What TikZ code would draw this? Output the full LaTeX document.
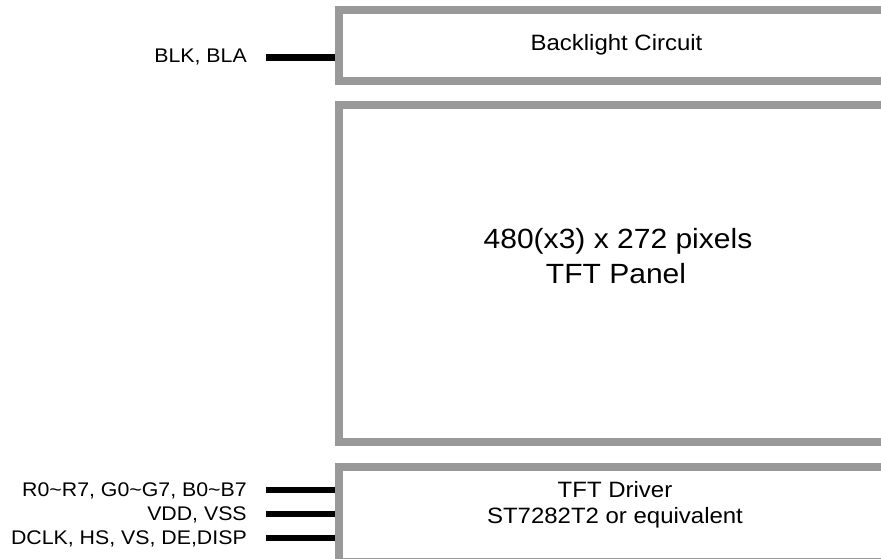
\documentclass[tikz,border=0pt]{standalone}
\usepackage{fontspec}
\setmainfont{Liberation Sans}[FakeStretch=1.08]
\begin{document}
\begin{tikzpicture}[x=0.75pt,y=-0.75pt,
  blockbox/.style={draw=boxgray,line width=6pt,rectangle,inner sep=0pt,anchor=north west},
  wire/.style={line width=5pt,black},
  pinlabel/.style={anchor=base east,inner sep=0pt,font=\fontsize{14.8pt}{18pt}\selectfont},
  boxtext/.style={anchor=base,inner sep=0pt,font=\fontsize{16.65pt}{20pt}\selectfont},
  paneltext/.style={anchor=base,inner sep=0pt,font=\fontsize{20.85pt}{26pt}\selectfont}]
\definecolor{boxgray}{RGB}{153,153,153}
\useasboundingbox (0,0) rectangle (881,559);
\clip (0,0) rectangle (881,559);
% blocks (anchored at outer edge of the border)
\node[blockbox,minimum width=420pt,minimum height=53.25pt] (back) at (335,6) {};
\node[blockbox,minimum width=420pt,minimum height=252pt] (panel) at (335,101.5) {};
\node[blockbox,minimum width=420pt,minimum height=71.6pt] (drv) at (335,462.5) {};
% texts in blocks
\node[boxtext] (tback) at (616.5,51) {Backlight Circuit};
\node[paneltext] (tpanel1) at (618,248.3) {480(x3) x 272 pixels};
\node[paneltext] (tpanel2) at (616,283.3) {TFT Panel};
\node[boxtext] (tdrv1) at (615,497.5) {TFT Driver};
\node[boxtext] (tdrv2) at (615,523.5) {ST7282T2 or equivalent};
% pin labels
\node[pinlabel] (lblk) at (247,62.7) {BLK, BLA};
\node[pinlabel] (lrgb) at (247,496) {R0\textasciitilde R7, G0\textasciitilde G7, B0\textasciitilde B7};
\node[pinlabel] (lvdd) at (247,520) {VDD, VSS};
\node[pinlabel] (ldclk) at (247,544) {DCLK, HS, VS, DE,DISP};
% wires
\coordinate (wblk) at (266,57.7);
\coordinate (wrgb) at (266,490);
\coordinate (wvdd) at (266,514);
\coordinate (wdclk) at (266,538);
\draw[wire] (wblk) -- (wblk -| back.west);
\draw[wire] (wrgb) -- (wrgb -| drv.west);
\draw[wire] (wvdd) -- (wvdd -| drv.west);
\draw[wire] (wdclk) -- (wdclk -| drv.west);
\end{tikzpicture}
\end{document}
